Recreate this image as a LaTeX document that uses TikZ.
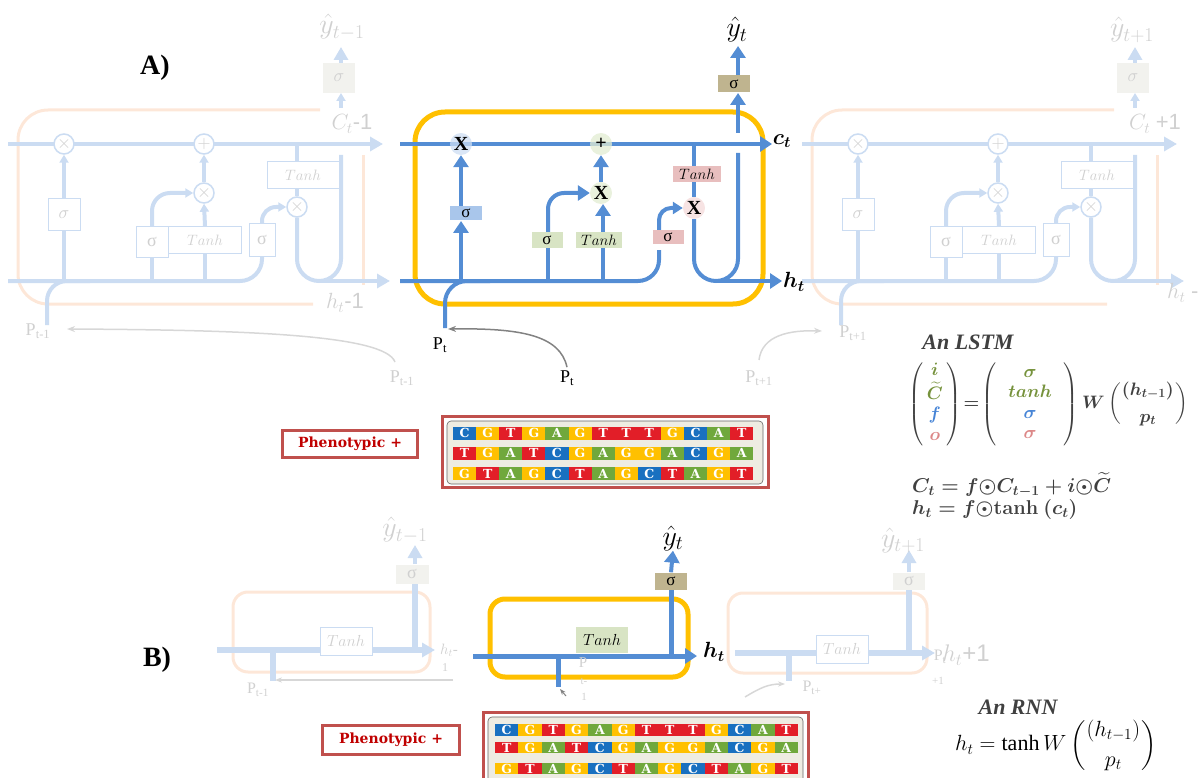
\RequirePackage{fix-cm}
\documentclass[tikz,border=0pt]{standalone}
\usepackage{amsmath}
\usepackage{fontspec}
\setmainfont{Liberation Serif}
\newfontfamily\sansf{Liberation Sans}
\newfontfamily\dnaf{DejaVu Serif}
\usetikzlibrary{arrows.meta,calc}

\definecolor{mblue}{RGB}{84,141,212}
\definecolor{fblue}{RGB}{203,220,242}
\definecolor{fborange}{RGB}{253,231,216}
\definecolor{ftext}{RGB}{208,208,208}
\definecolor{myel}{RGB}{255,192,0}
\definecolor{sblue}{RGB}{169,198,235}
\definecolor{sgreen}{RGB}{216,228,196}
\definecolor{spink}{RGB}{232,190,190}
\definecolor{skhaki}{RGB}{191,180,143}
\definecolor{cblue}{RGB}{205,222,243}
\definecolor{cgreen}{RGB}{226,236,210}
\definecolor{cpink}{RGB}{244,218,218}
\definecolor{sgrey}{RGB}{242,242,238}
\definecolor{eqgreen}{RGB}{118,146,60}
\definecolor{eqblue}{RGB}{70,132,214}
\definecolor{eqpink}{RGB}{220,135,135}
\definecolor{eqgrey}{RGB}{64,64,64}
\definecolor{dnaC}{RGB}{25,112,192}
\definecolor{dnaG}{RGB}{255,192,0}
\definecolor{dnaT}{RGB}{226,30,40}
\definecolor{dnaA}{RGB}{112,168,60}
\definecolor{pred}{RGB}{192,80,77}
\definecolor{ptext}{RGB}{192,0,0}
\definecolor{beige}{RGB}{238,236,226}
\definecolor{arrgrey}{RGB}{130,130,130}
\definecolor{farrgrey}{RGB}{215,215,215}

\pgfdeclarelayer{back}
\pgfdeclarelayer{lines}
\pgfsetlayers{back,lines,main}

\newcommand{\fsz}[1]{\fontsize{#1}{#1}\selectfont}
\newsavebox{\lstmeqbox}
\newsavebox{\rnneqbox}
\newsavebox{\ceqbox}
\newsavebox{\heqbox}
\newcommand{\colA}{\begin{array}{@{\,}c@{\,}}\color{eqgreen}i\\ \color{eqgreen}\widetilde{C}\\ \color{eqblue}f\\ \color{eqpink}o\end{array}}
\newcommand{\colB}{\begin{array}{@{\;\;}c@{\;\;}}\color{eqgreen}\sigma\\ \color{eqgreen}tanh\\ \color{eqblue}\sigma\\ \color{eqpink}\sigma\end{array}}
\newcommand{\hpvec}{\genfrac{}{}{0pt}{0}{(h_{t-1})}{p_t}}

\tikzset{
  mline/.style={draw=mblue, line width=4pt},
  fline/.style={draw=fblue, line width=4pt},
  mtip/.style={-{Triangle[width=15pt,length=12pt]}},
  mtipS/.style={-{Triangle[width=12pt,length=10pt]}},
  ftip/.style={-{Triangle[width=14pt,length=13pt]}},
  ftipS/.style={-{Triangle[width=9pt,length=8pt]}},
  fcirc/.style={circle, draw=fblue, line width=1.5pt, fill=white, minimum size=20pt, inner sep=0pt, text=ftext, font=\fsz{18}},
  fbox/.style={rectangle, draw=fblue, line width=1pt, fill=white, inner sep=0pt, text=ftext},
  fgbox/.style={rectangle, fill=sgrey, inner sep=0pt, text=ftext, font=\fsz{18}},
  ftxt/.style={text=ftext, inner sep=0pt},
  mcirc/.style={circle, minimum size=22pt, inner sep=0pt, fill opacity=0.75, text opacity=1, font=\bfseries\fsz{20}},
  mbox/.style={rectangle, inner sep=0pt, font=\fsz{17}},
  dnatile/.style={rectangle, inner sep=0pt, text=white, font=\dnaf\bfseries\fsz{12.5}},
  pheno/.style={rectangle, draw=pred, line width=3pt, fill=white, text=ptext, font=\dnaf\bfseries\fsz{14}, inner sep=0pt},
}

\newcommand{\fadedcell}[2]{%
\begin{scope}[shift={(#1,0)}]
  \node[fcirc] (fxa#2) at (64,144) {$\times$};
  \node[fcirc] (fpa#2) at (204,144) {$+$};
  \node[fcirc] (fxb#2) at (204,193) {$\times$};
  \node[fcirc] (fxc#2) at (297,207) {$\times$};
  \node[fbox, minimum width=32pt, minimum height=32pt, font=\fsz{18}] (fsf#2) at (64,215) {$\sigma$};
  \node[fbox, minimum width=32pt, minimum height=30pt, font=\fsz{18}] (fsi#2) at (152,242) {σ};
  \node[fbox, minimum width=73pt, minimum height=27pt, font=\fsz{15}] (ftg#2) at (205,240) {$Tanh$};
  \node[fbox, minimum width=26pt, minimum height=32pt, font=\fsz{18}] (fso#2) at (262,240) {σ};
  \node[fbox, minimum width=72pt, minimum height=27pt, font=\fsz{15}] (fto#2) at (303,175) {$Tanh$};
  \node[fgbox, minimum width=32pt, minimum height=30pt] (fsy#2) at (339,78) {$\sigma$};
  \begin{pgfonlayer}{back}
    \draw[fborange, line width=3pt, rounded corners=30pt] (320,110) -- (18,110) -- (18,304) -- (313,304);
    \draw[fborange, line width=3pt] (363,155) -- (363,285);
  \end{pgfonlayer}
  \begin{pgfonlayer}{lines}
    \draw[fline, ftip] (8,144) -- (383,144);
    \draw[fline, rounded corners=22pt] (8,281) -| (262,250);
    \draw[fline, rounded corners=14pt, ftipS] (fso#2.north) |- (fxc#2.west);
    \draw[fline] (64,281) -- (fsf#2.south);
    \draw[fline, ftipS] (fsf#2.north) -- (fxa#2.south);
    \draw[fline] (152,281) -- (fsi#2.south);
    \draw[fline, rounded corners=18pt, ftipS] (fsi#2.north) |- (fxb#2.west);
    \draw[fline] (205,281) -- (ftg#2.south);
    \draw[fline, ftipS] (ftg#2.north) -- (fxb#2.south);
    \draw[fline, ftipS] (fxb#2.north) -- (fpa#2.south);
    \draw[fline] (297,144) -- (297,162);
    \draw[fline] (297,188) -- (fxc#2.north);
    \draw[fline, rounded corners=22pt] (fxc#2.south) -- (297,281) -- (341,281) -- (341,155);
    \draw[fline, ftip] (319,281) -- (390,281);
    \draw[fline, rounded corners=20pt] (47,325) |- (90,281);
    \draw[fline, ftipS] (341,108) -- (341,93);
    \draw[fline, ftip] (341,63) -- (341,47);
  \end{pgfonlayer}
\end{scope}}

\newcommand{\dnarow}[6]{%
  \foreach \lt [count=\i from 0] in {#6} {
    \node[dnatile, fill=dna\lt, minimum width=#3pt, minimum height=#5pt] (#1\i) at ({#2+(\i+0.5)*#3}, #4) {\lt};
  }}

\begin{document}
\sbox{\lstmeqbox}{\fontsize{18}{20.5}\selectfont\color{eqgrey}\boldmath$\left(\colA\right)\!=\!\left(\colB\right)W\left(\hpvec\right)$}%
\sbox{\rnneqbox}{\fsz{22}$h_t = \tanh W\left(\hpvec\right)$}%
\sbox{\ceqbox}{\fsz{20}\color{eqgrey}\boldmath$C_t = f{\odot}C_{t-1} + i{\odot}\widetilde{C}$}%
\sbox{\heqbox}{\fsz{20}\color{eqgrey}\boldmath$h_t = f{\odot}\mathbf{tanh}\ (c_t)$}%
\begin{tikzpicture}[x=1pt,y=-1pt]
\useasboundingbox (0,0) rectangle (1202,778);

% ---------------- A) LSTM ----------------
\node[font=\fsz{28}\bfseries] (LA) at (155,68) {A)};

\fadedcell{0}{L}
\fadedcell{794}{R}

% faded labels
\node[ftxt, font=\fsz{28}] (yL) at (342,27) {$\hat{y}_{t-1}$};
\node[ftxt, font=\fsz{28}] (yR) at (1132,30) {$\hat{y}_{t+1}$};
\node[ftxt, font=\fsz{22}] (cL) at (352,124) {$C_t$\sansf -1};
\node[ftxt, font=\fsz{22}] (cR) at (1155,124) {$C_t$ \sansf +1};
\node[ftxt, font=\fsz{22}] (hL) at (345,303) {$h_t$\sansf -1};
\node[ftxt, font=\fsz{22}, anchor=west] (hR) at (1167,293) {$h_t$ \sansf -};
\node[ftxt, font=\fsz{18}] (pL) at (38,331) {P\textsubscript{t-1}};
\node[ftxt, font=\fsz{18}] (pR) at (853,333) {P\textsubscript{t+1}};
\node[ftxt, font=\fsz{18}] (pLb) at (402,378) {P\textsubscript{t-1}};
\node[ftxt, font=\fsz{18}] (pRb) at (759,378) {P\textsubscript{t+1}};
\begin{pgfonlayer}{lines}
  \draw[farrgrey, line width=1.5pt, -{Stealth[length=8pt]}] (395,362) .. controls (385,335) and (250,330) .. (67,329);
  \draw[farrgrey, line width=1.5pt, -{Stealth[length=8pt]}] (759,360) .. controls (762,335) and (790,330) .. (822,331);
\end{pgfonlayer}

% main cell nodes
\node[mcirc, fill=cblue] (X1) at (461,144) {X};
\node[mcirc, fill=cgreen] (PL) at (601,144) {+};
\node[mcirc, fill=cgreen] (X2) at (601,193) {X};
\node[mcirc, fill=cpink] (X3) at (694,208) {X};
\node[mbox, fill=sblue, minimum width=32pt, minimum height=14pt] (SF) at (466,213) {σ};
\node[mbox, fill=sgreen, minimum width=31pt, minimum height=16pt] (SI) at (547,240) {σ};
\node[mbox, fill=sgreen, minimum width=46pt, minimum height=16pt, font=\fsz{15}] (TG) at (599,240) {$Tanh$};
\node[mbox, fill=spink, minimum width=31pt, minimum height=14pt] (SO) at (668,237) {σ};
\node[mbox, fill=spink, minimum width=48pt, minimum height=16pt, font=\fsz{15}] (TO) at (697,174) {$Tanh$};
\node[mbox, fill=skhaki, minimum width=32pt, minimum height=17pt] (SY) at (734,84) {σ};
\node[font=\fsz{28}, inner sep=0pt] (YT) at (737,30) {$\hat{y}_t$};
\node[font=\fsz{22}] (CT) at (782,141) {$\boldsymbol{c_t}$};
\node[font=\fsz{22}] (HT) at (794,282) {$\boldsymbol{h_t}$};
\node[font=\fsz{18}] (PT) at (440,345) {P\textsubscript{t}};
\node[font=\fsz{18}] (PT2) at (567,378) {P\textsubscript{t}};

\begin{pgfonlayer}{back}
  \draw[myel, line width=5pt, rounded corners=30pt] (415,112) rectangle (763,304);
\end{pgfonlayer}
\begin{pgfonlayer}{lines}
  \draw[mline, mtip] (400,144) -- (772,144);
  \draw[mline, rounded corners=21pt] (400,281) -| (659,250);
  \draw[mline, rounded corners=12pt, mtipS] (659,232) |- (X3.west);
  \draw[mline, mtip] (461,281) -- (461,221);
  \draw[mline, mtip] (461,206) -- (X1.south);
  \draw[mline] (548,281) -- (548,245);
  \draw[mline, rounded corners=16pt, mtip] (548,234) |- (X2.west);
  \draw[mline] (603,281) -- (603,246);
  \draw[mline, mtip] (603,233) -- (603,204);
  \draw[mline, mtip] (X2.north) -- (PL.south);
  \draw[mline] (694,144) -- (694,170);
  \draw[mline] (694,180) -- (X3.north);
  \draw[mline, rounded corners=22pt] (X3.south) -- (694,281) -- (738,281) -- (738,153);
  \draw[mline, mtip] (716,281) -- (782,281);
  \draw[mline, mtip] (738,133) -- (738,93);
  \draw[mline, mtip] (738,75) -- (738,46);
  \draw[mline, rounded corners=22pt] (445,328) |- (490,281);
  \draw[arrgrey, line width=1.5pt, -{Stealth[length=8pt]}] (PT2.north) .. controls (560,335) and (520,328) .. (448,329);
\end{pgfonlayer}

% equations
\node[font=\fsz{22}\bfseries\itshape, text=eqgrey] (LSTMt) at (968,342) {An LSTM};
\node[anchor=west, inner sep=0pt] (LSTMeq) at (908,404) {\usebox{\lstmeqbox}};
\node[anchor=west, inner sep=0pt] (Ceq) at (912,485) {\usebox{\ceqbox}};
\node[anchor=west, inner sep=0pt] (Heq) at (912,509) {\usebox{\heqbox}};

% DNA A
\node[pheno, minimum width=135pt, minimum height=27pt] (PhA) at (350,444) {Phenotypic +};
\draw[pred, line width=3pt] (442,416) rectangle (768,487);
\draw[black!60, line width=0.6pt, fill=beige, rounded corners=4pt] (447,421) rectangle (763,484);
\dnarow{da}{453}{23.1}{433}{13}{C,G,T,G,A,G,T,T,T,G,C,A,T}
\dnarow{db}{453}{23.1}{453}{13}{T,G,A,T,C,G,A,G,G,A,C,G,A}
\dnarow{dc}{453}{23.1}{473.5}{13}{G,T,A,G,C,T,A,G,C,T,A,G,T}

% ---------------- B) RNN ----------------
\node[font=\fsz{28}\bfseries] (LB) at (157,660) {B)};
\begin{pgfonlayer}{back}
  \draw[myel, line width=5pt, rounded corners=15pt] (490,599) rectangle (688,677);
  \draw[fborange, line width=3pt, rounded corners=15pt] (233,592) rectangle (430,672);
  \draw[fborange, line width=3pt, rounded corners=15pt] (728,593) rectangle (927,673);
\end{pgfonlayer}
\node[mbox, fill=sgreen, minimum width=52pt, minimum height=26pt, font=\fsz{16}] (TB) at (602,640) {$Tanh$};
\node[mbox, fill=skhaki, minimum width=32pt, minimum height=17pt] (SYB) at (671,581) {σ};
\node[font=\fsz{28}, inner sep=0pt] (YTB) at (673,538) {$\hat{y}_t$};
\node[font=\fsz{22}] (HTB) at (714,652) {$\boldsymbol{h_t}$};
\node[fbox, minimum width=52pt, minimum height=28pt, font=\fsz{16}] (TBL) at (346,641) {$Tanh$};
\node[fgbox, minimum width=33pt, minimum height=19pt] (SYL) at (412,574) {σ};
\node[ftxt, font=\fsz{28}] (YTL) at (405,530) {$\hat{y}_{t-1}$};
\node[fbox, minimum width=52pt, minimum height=28pt, font=\fsz{16}] (TBR) at (842,649) {$Tanh$};
\node[fgbox, minimum width=32pt, minimum height=17pt] (SYR) at (909,581) {σ};
\node[ftxt, font=\fsz{28}] (YTR) at (903,540) {$\hat{y}_{t+1}$};
% faded small labels
\node[ftxt, font=\fsz{16}] (pBL) at (258,690) {P\textsubscript{t-1}};
\node[ftxt, font=\fsz{15}] (hBL1) at (449,650) {$h_{t}$-};
\node[ftxt, font=\fsz{12}] (hBL2) at (445,668) {1};
\node[ftxt, font=\fsz{15}] (pBC1) at (583,663) {P};
\node[ftxt, font=\fsz{11}] (pBC2) at (584,681) {t-};
\node[ftxt, font=\fsz{11}] (pBC3) at (584,697) {1};
\node[ftxt, font=\fsz{16}] (pBR) at (812,688) {P\textsubscript{t+}};
\node[ftxt, font=\fsz{16}] (pBR2) at (940,657) {P\textsubscript{t}};
\node[ftxt, font=\fsz{11}] (pBR3) at (938,681) {+1};
\node[ftxt, font=\fsz{24}] (hBR) at (966,655) {$h_t$\sansf +1};

\begin{pgfonlayer}{lines}
  \draw[mblue, line width=5pt, mtip] (473,656) -- (697,656);
  \draw[mline, line width=5pt] (671,656) -- (SYB.south);
  \draw[mline, mtip] (SYB.north) -- (YTB.south);
  \draw[mline, line width=5pt] (558,656) -- (558,687);
  \draw[arrgrey, line width=1pt, -{Stealth[length=6pt]}] (566,696) -- (560,689);
  \draw[fline, line width=6pt, ftip] (217,650) -- (435,650);
  \draw[fline, line width=6pt] (415,647) -- (415,584);
  \draw[fline, ftip] (415,564) -- (415,545);
  \draw[fline, line width=6pt] (273,650) -- (273,681);
  \draw[farrgrey, line width=1.5pt, -{Stealth[length=7pt]}] (453,680) -- (275,680);
  \draw[fline, line width=6pt, ftip] (735,653) -- (935,653);
  \draw[fline, line width=6pt] (909,650) -- (SYR.south);
  \draw[fline, ftip] (SYR.north) -- (909,550);
  \draw[fline, line width=6pt] (789,653) -- (789,681);
  \draw[farrgrey, line width=1.5pt, -{Stealth[length=7pt]}] (745,697) .. controls (760,688) and (768,684) .. (785,684);
\end{pgfonlayer}

% equations B
\node[font=\fsz{22}\bfseries\itshape, text=eqgrey] (RNNt) at (1018,707) {An RNN};
\node[anchor=west, inner sep=0pt] (Req) at (955,745) {\usebox{\rnneqbox}};

% DNA B
\node[pheno, minimum width=137pt, minimum height=29pt] (PhB) at (391,740) {Phenotypic +};
\draw[pred, line width=3pt] (483,712) rectangle (808,795);
\draw[black!60, line width=0.6pt, fill=beige, rounded corners=4pt] (488,717) rectangle (803,792);
\dnarow{ea}{495}{23.3}{730}{11.5}{C,G,T,G,A,G,T,T,T,G,C,A,T}
\dnarow{eb}{495}{23.3}{747.5}{11.5}{T,G,A,T,C,G,A,G,G,A,C,G,A}
\dnarow{ec}{495}{23.3}{768.5}{11.5}{G,T,A,G,C,T,A,G,C,T,A,G,T}
\end{tikzpicture}
\end{document}
